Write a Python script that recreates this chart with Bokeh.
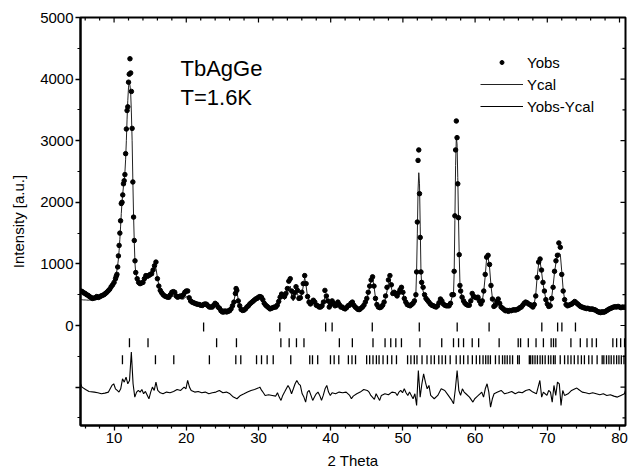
from bokeh.plotting import figure
from bokeh.models import Range1d, FixedTicker, Label, Legend, LegendItem
from bokeh.embed import file_html
from bokeh.resources import INLINE

# ---------------- data ----------------
two_theta = [
    5.4, 5.6, 5.8, 6.0, 6.2, 6.4, 6.6, 6.8, 7.0, 7.2, 7.4, 7.6, 7.8, 8.0, 8.2, 8.4, 8.6, 8.8, 9.0, 9.2, 9.4, 9.6, 9.8, 10.0,
    10.2, 10.3, 10.4, 10.5, 10.6, 10.7, 10.8, 10.9, 11.0, 11.1, 11.2, 11.3, 11.4, 11.5, 11.6, 11.7, 11.8, 11.9, 12.0, 12.1,
    12.2, 12.3, 12.4, 12.5, 12.6, 12.7, 12.8, 12.9, 13.0,
    13.2, 13.4, 13.6, 13.8, 14.0, 14.2, 14.4, 14.6, 14.8, 15.0, 15.2, 15.4, 15.6, 15.8, 16.0, 16.2, 16.4, 16.6, 16.8, 17.0,
    17.2, 17.4, 17.6, 17.8, 18.0, 18.2, 18.4, 18.6, 18.8, 19.0, 19.2, 19.4, 19.6, 19.8, 20.0, 20.2, 20.4, 20.6, 20.8, 21.0,
    21.2, 21.4, 21.6, 21.8, 22.0, 22.2, 22.4, 22.6, 22.8, 23.0, 23.2, 23.4, 23.6, 23.8, 24.0, 24.2, 24.4, 24.6, 24.8, 25.0,
    25.2, 25.4, 25.6, 25.8, 26.0, 26.2, 26.4, 26.6,
    26.8, 26.9, 27.0,
    27.2, 27.4, 27.6, 27.8, 28.0, 28.2, 28.4, 28.6, 28.8, 29.0, 29.2, 29.4, 29.6, 29.8, 30.0, 30.2, 30.4, 30.6, 30.8, 31.0,
    31.2, 31.4, 31.6, 31.8, 32.0, 32.2, 32.4, 32.6, 32.8, 33.0, 33.2, 33.4, 33.6, 33.8, 34.0, 34.2, 34.4, 34.6, 34.8, 35.0,
    35.2, 35.4, 35.6, 35.8, 36.0, 36.2, 36.4, 36.6, 36.8, 37.0, 37.2, 37.4, 37.6, 37.8, 38.0, 38.2, 38.4, 38.6, 38.8, 39.0,
    39.2, 39.4, 39.6, 39.8, 40.0, 40.2, 40.4, 40.6, 40.8, 41.0, 41.2, 41.4, 41.6, 41.8, 42.0, 42.2, 42.4, 42.6, 42.8, 43.0,
    43.2, 43.4, 43.6, 43.8, 44.0, 44.2, 44.4, 44.6, 44.8, 45.0, 45.2, 45.4, 45.6, 45.8, 46.0, 46.2, 46.4, 46.6, 46.8, 47.0,
    47.2, 47.4, 47.6, 47.8, 48.0, 48.2, 48.4, 48.6, 48.8, 49.0, 49.2, 49.4, 49.6, 49.8, 50.0, 50.2, 50.4, 50.6, 50.8, 51.0,
    51.2, 51.4, 51.6, 51.8,
    51.9, 52.0, 52.1, 52.2, 52.3, 52.4, 52.5, 52.6, 52.8,
    53.0, 53.2, 53.4, 53.6, 53.8, 54.0, 54.2, 54.4, 54.6, 54.8, 55.0, 55.2, 55.4, 55.6, 55.8, 56.0, 56.2, 56.4, 56.6, 56.8,
    57.0, 57.1, 57.2, 57.3, 57.4, 57.5, 57.6, 57.7, 57.8, 57.9, 58.0,
    58.2, 58.4, 58.6, 58.8, 59.0, 59.2, 59.4, 59.6, 59.8, 60.0, 60.2, 60.4, 60.6, 60.8, 61.0, 61.2, 61.4, 61.6, 61.8, 62.0,
    62.2, 62.4, 62.6, 62.8, 63.0, 63.2, 63.4, 63.6, 63.8, 64.0, 64.2, 64.4, 64.6, 64.8, 65.0, 65.2, 65.4, 65.6, 65.8, 66.0,
    66.2, 66.4, 66.6, 66.8, 67.0, 67.2, 67.4, 67.6, 67.8, 68.0, 68.2, 68.4, 68.6, 68.8, 69.0, 69.2, 69.4, 69.6, 69.8, 70.0,
    70.2, 70.4, 70.6, 70.8, 71.0, 71.2, 71.4, 71.6, 71.8, 72.0, 72.2, 72.4, 72.6, 72.8, 73.0, 73.2, 73.4, 73.6, 73.8, 74.0,
    74.2, 74.4, 74.6, 74.8, 75.0, 75.2, 75.4, 75.6, 75.8, 76.0, 76.2, 76.4, 76.6, 76.8, 77.0, 77.2, 77.4, 77.6, 77.8, 78.0,
    78.2, 78.4, 78.6, 78.8, 79.0, 79.2, 79.4, 79.6, 79.8, 80.0, 80.2, 80.4, 80.6, 80.8,
]

y_obs = [
    560, 550, 530, 520, 500, 490, 470, 455, 440, 445, 450, 470, 455, 465, 480, 490, 500, 520, 540, 565, 590, 630, 660, 700,
    760, 800, 830, 950, 1130, 1300, 1500, 1700, 1980, 2000, 2120, 2300, 2350, 2450, 2790, 3190, 3490, 3550, 3950, 4080,
    4330, 4100, 3800, 3200, 2330, 1760, 1380, 1050, 860,
    760, 700, 680, 690, 700, 760, 810, 800, 810, 830, 840, 900, 970, 1030, 760, 640, 570, 530, 500, 480,
    470, 460, 460, 500, 540, 550, 540, 480, 460, 470, 480, 470, 500, 540, 560, 560, 450, 400, 380, 370,
    360, 350, 345, 340, 330, 325, 340, 350, 345, 320, 300, 300, 300, 330, 360, 340, 300, 280, 240, 220,
    220, 230, 220, 230, 240, 270, 320, 380,
    520, 600, 570,
    400, 320, 260, 245, 250, 270, 300, 320, 350, 370, 390, 410, 430, 440, 460, 470, 460, 420, 360, 330,
    310, 290, 270, 280, 290, 300, 300, 330, 390, 460, 510, 480, 470, 520, 600, 720, 760, 560, 460, 530,
    630, 570, 440, 450, 540, 680, 810, 680, 470, 380, 350, 380, 410, 380, 330, 320, 300, 300, 320, 380,
    570, 480, 400, 300, 340, 400, 360, 320, 330, 380, 340, 300, 300, 280, 270, 290, 320, 330, 360, 380,
    330, 300, 280, 260, 260, 280, 300, 330, 380, 440, 540, 640, 740, 790, 640, 440, 340, 300, 290, 300,
    330, 380, 480, 620, 740, 810, 660, 520, 540, 520, 480, 530, 580, 620, 540, 440, 380, 340, 330, 320,
    340, 360, 400, 500,
    870, 1680, 2680, 2850, 2140, 1430, 870, 700, 620,
    500, 440, 410, 380, 350, 330, 320, 310, 300, 320, 370, 430, 400, 350, 330, 320, 320, 320, 360, 500,
    500, 880, 1780, 2850, 3320, 3050, 2300, 1750, 1150, 650, 560,
    460, 400, 360, 340, 330, 330, 400, 520, 470, 460, 450, 460, 400, 350, 400, 560, 830, 1110, 1140, 990,
    650, 430, 310, 330, 390, 430, 360, 300, 280, 260, 240, 245, 230, 245, 240, 250, 255, 250, 260, 270,
    290, 300, 330, 360, 380, 370, 350, 340, 320, 300, 340, 480, 780, 1030, 1080, 900, 700, 560, 420, 350,
    310, 320, 440, 620, 880, 1050, 1140, 1340, 1270, 830, 560, 420, 340, 320, 330, 340, 350, 370, 390, 370,
    350, 330, 310, 300, 290, 285, 275, 280, 270, 265, 270, 260, 255, 240, 225, 215, 210, 220, 215, 225,
    240, 255, 270, 280, 290, 300, 305, 300, 310, 300, 290, 300, 295, 300,
]

y_cal = [
    420, 418, 415, 415, 413, 412, 412, 413, 415, 418, 425, 432, 440, 450, 460, 472, 485, 500, 520, 545, 575, 615, 665, 720,
    790, 840, 900, 980, 1080, 1220, 1400, 1600, 1820, 2000, 2140, 2260, 2360, 2480, 2700, 3000, 3350, 3650, 3870, 3950,
    3900, 3780, 3450, 3000, 2350, 1780, 1350, 1000, 850,
    770, 720, 700, 700, 710, 730, 760, 780, 800, 820, 850, 880, 920, 930, 780, 660, 590, 550, 520, 500,
    490, 475, 465, 460, 470, 480, 470, 455, 445, 440, 435, 430, 430, 450, 470, 460, 420, 400, 390, 380,
    370, 360, 350, 345, 340, 335, 330, 325, 320, 315, 310, 305, 300, 310, 330, 320, 300, 290, 280, 275,
    270, 270, 270, 275, 285, 300, 330, 400,
    520, 580, 560,
    420, 340, 290, 275, 275, 285, 300, 320, 345, 370, 395, 420, 440, 450, 450, 450, 440, 410, 370, 340,
    320, 300, 290, 290, 290, 300, 310, 330, 370, 440, 520, 460, 420, 450, 520, 600, 640, 480, 400, 450,
    560, 520, 420, 420, 500, 640, 780, 640, 460, 390, 360, 350, 360, 360, 350, 340, 320, 310, 320, 360,
    460, 440, 380, 330, 340, 380, 350, 320, 320, 340, 320, 300, 295, 290, 285, 290, 300, 310, 330, 340,
    320, 300, 290, 285, 290, 300, 310, 330, 370, 430, 520, 620, 730, 770, 640, 450, 350, 310, 300, 300,
    320, 360, 440, 560, 680, 740, 620, 500, 480, 470, 460, 500, 560, 600, 530, 430, 370, 340, 330, 320,
    330, 350, 400, 520,
    900, 1500, 2200, 2480, 2300, 1600, 900, 650, 560,
    470, 420, 390, 370, 350, 340, 330, 320, 315, 320, 350, 400, 380, 340, 330, 320, 320, 330, 360, 460,
    480, 850, 1700, 2600, 3050, 2950, 2400, 1750, 1150, 700, 560,
    450, 400, 370, 350, 340, 350, 430, 500, 480, 460, 470, 450, 400, 360, 400, 560, 800, 1100, 1100, 950,
    650, 440, 330, 340, 380, 420, 360, 310, 290, 275, 265, 260, 255, 255, 255, 255, 260, 265, 270, 275,
    285, 300, 320, 350, 370, 365, 350, 340, 330, 320, 360, 500, 800, 1000, 1040, 880, 680, 550, 430, 360,
    330, 340, 450, 640, 860, 1020, 1120, 1180, 1160, 880, 580, 420, 340, 320, 325, 330, 340, 360, 380, 365,
    345, 330, 315, 305, 300, 295, 290, 285, 280, 275, 272, 270, 265, 260, 255, 255, 255, 255, 258, 260,
    265, 268, 270, 275, 280, 285, 290, 292, 295, 295, 295, 295, 295, 295,
]

diff_theta = [
    5.35, 5.56, 6.05, 6.53, 7.27, 7.75, 8.24, 8.73, 9.22, 9.70, 9.95, 10.19, 10.44, 10.68, 10.92, 11.17, 11.41, 11.66,
    11.90, 12.14, 12.39, 12.63, 12.87, 13.12, 13.36, 13.61, 13.85, 14.09, 14.34, 14.83, 15.07, 15.31, 15.56, 15.80,
    16.05, 16.39, 16.78, 17.27, 17.75, 18.24, 18.73, 19.22, 19.70, 19.95, 20.19, 20.44, 20.68, 21.17, 21.66, 22.14,
    22.63, 23.12, 23.61, 24.10, 24.58, 25.07, 25.56, 26.05, 26.53, 27.02, 27.51, 28.00, 28.48, 28.97, 29.46, 29.95,
    30.19, 30.44, 30.68, 30.92, 31.41, 31.90, 32.39, 32.63, 32.87, 33.12, 33.36, 33.61, 33.85, 34.09, 34.34, 34.58,
    34.83, 35.07, 35.31, 35.56, 35.80, 36.05, 36.29, 36.53, 36.78, 37.02, 37.27, 37.51, 37.75, 38.00, 38.24, 38.48,
    38.73, 38.97, 39.22, 39.46, 39.70, 39.95, 40.19, 40.68, 41.17, 41.66, 42.14, 42.63, 42.87, 43.12, 43.61, 44.09,
    44.58, 45.07, 45.31, 45.56, 46.05, 46.29, 46.53, 46.78, 47.02, 47.51, 48.00, 48.48, 48.97, 49.22, 49.46, 49.70,
    49.95, 50.19, 50.44, 50.68, 50.92, 51.17, 51.41, 51.66, 51.90, 52.14, 52.39, 52.63, 52.87, 53.12, 53.36, 53.61,
    53.85, 54.34, 54.83, 55.31, 55.80, 56.29, 56.78, 57.02, 57.27, 57.51, 57.75, 57.99, 58.24, 58.48, 58.73, 59.22,
    59.70, 59.95, 60.19, 60.44, 60.68, 60.92, 61.17, 61.41, 61.66, 61.90, 62.14, 62.39, 62.63, 63.12, 63.61, 64.09,
    64.58, 65.07, 65.56, 66.05, 66.53, 67.02, 67.51, 68.00, 68.49, 68.73, 68.97, 69.22, 69.46, 69.70, 69.95, 70.19,
    70.44, 70.68, 70.92, 71.17, 71.41, 71.66, 71.90, 72.14, 72.39, 72.88, 73.36, 73.85, 74.09, 74.34, 74.83, 75.31,
    75.80, 76.29, 76.78, 77.27, 77.76, 78.24, 78.73, 79.22, 79.71, 80.19, 80.68, 80.83,
]

y_diff = [
    146, 92, 54, 22, 11, 0, -16, -5, 11, 119, 146, 65, 38, 11, 65, 227, 173, 254,
    146, 200, 660, 146, -70, 11, 38, 11, 54, -16, 22, -97, 11, 92, 38, 173,
    38, 0, -16, 11, 0, 22, 54, 38, 92, 65, 200, 92, 38, 11, 22, 0,
    11, -16, 0, 11, 38, 0, 11, -16, -70, -97, -43, -16, 11, 38, 54, 76,
    92, 38, 0, -43, -32, -43, -54, 0, -70, -124, -43, 11, 65, 119, 65, -16,
    65, 146, 200, 146, 119, -16, -70, -151, 11, 38, -43, -124, -70, -16, 11, -43,
    -124, -43, 65, 119, 11, -43, 0, -16, 11, 0, 11, -43, -97, -54, -16, 11,
    54, 38, 11, -43, -108, -16, -70, -124, -43, -16, -32, 11, 0, -43, 11, 38,
    0, 65, 0, -43, 11, -43, -97, -16, -205, 362, -70, 146, 308, 173, 65, 119,
    -43, -97, -43, 65, 38, -43, -124, -178, 65, 362, 38, -43, 65, 11, -16, -70,
    -151, -97, -70, -43, -16, 11, -70, 65, 146, 11, -232, -97, -16, 11, 38, -16,
    0, 22, -16, 11, 0, 38, 54, 11, -16, 92, 200, -70, 11, -16, -43, 38,
    11, -151, 119, -43, 173, 146, -205, 38, -43, -16, 38, 65, 76, 54, 11, 0,
    -16, 0, -16, -32, -16, -43, -32, -54, -70, -43, -16, 40,
]

refl_phase1 = [22.4, 32.95, 39.3, 40.2, 45.76, 52.27, 57.52, 61.94, 69.24, 71.43, 72.02, 73.9]

refl_phase2 = [12.13, 14.7, 24.2, 26.95, 33.1, 34.25, 35.26, 36.3, 41.2, 43.0, 45.86, 47.53, 48.32, 49.02, 49.8,
               52.36, 55.38, 57.01, 57.71, 58.4, 59.6, 60.49, 63.33, 65.97, 66.3, 67.37, 68.44, 69.46, 70.53,
               70.86, 71.18, 73.27, 74.57, 75.5, 76.2, 76.8, 79.08, 79.6, 80.16, 80.7]

refl_phase3 = [11.16, 15.73, 18.27, 23.2, 26.86, 27.55, 29.73, 30.42, 31.2, 32.04, 34.47, 37.1, 37.48, 38.2,
               39.97, 40.48, 41.12, 42.45, 42.95, 43.44, 44.98, 45.4, 45.86, 46.33, 46.7, 47.25, 47.86, 48.46,
               49.11, 50.65, 51.11, 51.58, 51.95, 52.65, 53.34, 53.9, 54.36, 54.97, 55.43, 55.9, 56.55, 57.38,
               57.94, 58.41, 59.01, 59.62, 60.17, 60.64, 61.1, 61.47, 61.8, 62.12, 62.82, 63.33, 63.8, 64.12,
               64.45, 64.82, 65.19, 65.89, 66.12, 67.51, 67.7, 67.98, 68.3, 68.63, 69.0, 69.33, 69.7, 70.16,
               70.49, 70.86, 71.09, 71.79, 72.39, 72.86, 73.28, 73.74, 74.25, 74.72, 75.14, 75.74, 76.2, 76.9,
               77.6, 77.83, 78.2, 78.53, 78.85, 79.22, 79.6, 79.92, 80.25, 80.62]

x_major_ticks = [10, 20, 30, 40, 50, 60, 70, 80]
y_major_ticks = [-1000, 0, 1000, 2000, 3000, 4000, 5000]

# ---------------- layout / styling constants ----------------
FONT = "Liberation Sans"
DIFF_OFFSET = -1092
ROW_Y = [-25, -280, -555]
HALF_TICK = 72
X0, X1 = 5.35, 80.83
Y0, Y1 = -1623, 5000
PX_X = (X1 - X0) / 545.0   # data units per screen pixel
PX_Y = (Y1 - Y0) / 408.0

p = figure(width=628, height=472, output_backend="svg", toolbar_location=None,
           x_range=Range1d(X0, X1), y_range=Range1d(Y0, Y1),
           min_border_left=80, min_border_right=3, min_border_top=17, min_border_bottom=47)
p.background_fill_color = "white"
p.border_fill_color = "white"
p.outline_line_color = "black"
p.outline_line_width = 2
p.xgrid.visible = False
p.ygrid.visible = False

x_minor = [v for v in range(6, 81, 2) if v % 10 != 0]
y_minor = [-1500, -500, 500, 1500, 2500, 3500, 4500]

for ax in (p.xaxis[0], p.yaxis[0]):
    ax.axis_line_width = 2
    ax.major_tick_line_width = 1.3
    ax.minor_tick_line_width = 1.2
    ax.major_tick_out = 5
    ax.major_tick_in = 0
    ax.minor_tick_out = 3
    ax.minor_tick_in = 0
    ax.major_label_text_font = FONT
    ax.major_label_text_font_size = "15px"
    ax.major_label_text_color = "black"
    ax.axis_label_text_font = FONT
    ax.axis_label_text_font_size = "15px"
    ax.axis_label_text_font_style = "normal"
    ax.axis_label_text_color = "black"

p.xaxis[0].ticker = FixedTicker(ticks=x_major_ticks, minor_ticks=x_minor)
p.yaxis[0].ticker = FixedTicker(ticks=y_major_ticks, minor_ticks=y_minor)
p.xaxis[0].axis_label = "2 Theta"
p.yaxis[0].axis_label = "Intensity [a.u.]"
p.xaxis[0].major_label_standoff = 2
p.xaxis[0].axis_label_standoff = 6
p.yaxis[0].major_label_standoff = 2
p.yaxis[0].axis_label_standoff = 10
p.yaxis[0].major_label_overrides = {-1000: ""}

# inward ticks on the top and right frame edges (mirrored axes, no labels)
for ticks, ln in ((x_major_ticks, 5), (x_minor, 3)):
    p.segment(x0=ticks, y0=[Y1] * len(ticks), x1=ticks, y1=[Y1 - ln * PX_Y] * len(ticks),
              line_color="black", line_width=1.2)
for ticks, ln in ((y_major_ticks, 5), (y_minor, 3)):
    p.segment(x0=[X1] * len(ticks), y0=ticks, x1=[X1 - ln * PX_X] * len(ticks), y1=ticks,
              line_color="black", line_width=1.2)

# calculated profile
cal_r = p.line(two_theta, y_cal, line_color="#222222", line_width=1)
# observed points
obs_r = p.scatter(two_theta, y_obs, size=4.5, marker="circle", fill_color="black", line_color="black")
# difference curve
diff_r = p.line(diff_theta, [d + DIFF_OFFSET for d in y_diff], line_color="black", line_width=1.1)

# Bragg reflection markers
for row_y, refl in zip(ROW_Y, (refl_phase1, refl_phase2, refl_phase3)):
    p.segment(x0=refl, y0=[row_y - HALF_TICK] * len(refl), x1=refl, y1=[row_y + HALF_TICK] * len(refl),
              line_color="black", line_width=1.3)

legend = Legend(items=[LegendItem(label="Yobs", renderers=[obs_r]),
                       LegendItem(label="Ycal", renderers=[cal_r]),
                       LegendItem(label="Yobs-Ycal", renderers=[diff_r])],
                location=(400, 309), background_fill_alpha=0, border_line_alpha=0,
                padding=0, margin=0, spacing=2, glyph_width=43, glyph_height=10,
                label_height=20, label_standoff=4, label_text_font=FONT,
                label_text_font_size="15px", label_text_color="black")
p.add_layout(legend)

p.add_layout(Label(x=100, y=357, x_units="screen", y_units="screen", text="TbAgGe",
                   text_font=FONT, text_font_size="22px", text_baseline="middle", text_color="black"))
p.add_layout(Label(x=100, y=328, x_units="screen", y_units="screen", text="T=1.6K",
                   text_font=FONT, text_font_size="22px", text_baseline="middle", text_color="black"))

open("out.html", "w").write(file_html(p, INLINE))
